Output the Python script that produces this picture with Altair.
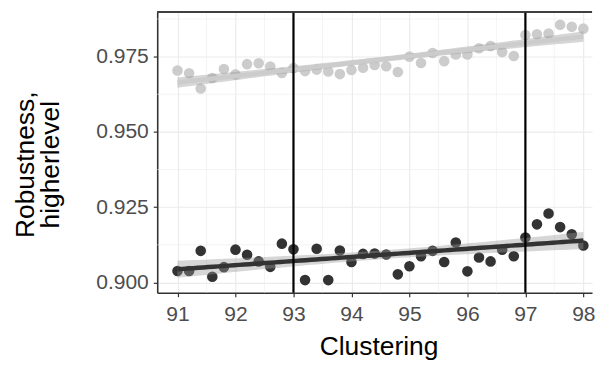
import altair as alt
import numpy as np
import pandas as pd

# ---- data ----
clustering = [91.0, 91.2, 91.4, 91.6, 91.8, 92.0, 92.2, 92.4, 92.6, 92.8,
              93.0, 93.2, 93.4, 93.6, 93.8, 94.0, 94.2, 94.4, 94.6, 94.8,
              95.0, 95.2, 95.4, 95.6, 95.8, 96.0, 96.2, 96.4, 96.6, 96.8,
              97.0, 97.2, 97.4, 97.6, 97.8, 98.0]
light_vals = [0.9704, 0.9695, 0.9644, 0.9679, 0.9709, 0.9691, 0.9725, 0.9728, 0.9717, 0.9696,
              0.9712, 0.9702, 0.9707, 0.9701, 0.9692, 0.9706, 0.9713, 0.9722, 0.9718, 0.9699,
              0.9750, 0.9729, 0.9762, 0.9735, 0.9757, 0.9757, 0.9778, 0.9785, 0.9765, 0.9752,
              0.9822, 0.9824, 0.9827, 0.9856, 0.9849, 0.9843]
dark_vals = [0.9038, 0.9038, 0.9105, 0.9019, 0.9051, 0.9109, 0.9092, 0.9070, 0.9052, 0.9129,
             0.9110, 0.9008, 0.9112, 0.9008, 0.9106, 0.9068, 0.9095, 0.9096, 0.9093, 0.9027,
             0.9054, 0.9087, 0.9105, 0.9068, 0.9133, 0.9037, 0.9083, 0.9070, 0.9109, 0.9087,
             0.9149, 0.9193, 0.9229, 0.9184, 0.9160, 0.9123]
series_names = ["light", "dark"]
series_colors = ["#cccccc", "#333333"]
x_ticks = [91, 92, 93, 94, 95, 96, 97, 98]
y_ticks = [0.900, 0.925, 0.950, 0.975]
vlines = [93, 97]

X_DOMAIN = [90.65, 98.15]
Y_DOMAIN = [0.8966, 0.9898]
W, H = 440, 284
FONT = "Liberation Sans"

# ---- tables ----
pts = pd.DataFrame({
    "x": clustering * 2,
    "y": light_vals + dark_vals,
    "series": ["light"] * len(clustering) + ["dark"] * len(clustering),
})

# linear fit with 95% confidence band (like geom_smooth(method="lm"))
fits = []
for name, vals in zip(series_names, [light_vals, dark_vals]):
    xa = np.array(clustering)
    ya = np.array(vals)
    n = len(xa)
    b1, b0 = np.polyfit(xa, ya, 1)
    res = ya - (b0 + b1 * xa)
    s = np.sqrt(np.sum(res ** 2) / (n - 2))
    sxx = np.sum((xa - xa.mean()) ** 2)
    g = np.linspace(xa.min(), xa.max(), 80)
    fit = b0 + b1 * g
    se = s * np.sqrt(1.0 / n + (g - xa.mean()) ** 2 / sxx)
    t = 2.032
    fits.append(pd.DataFrame({"x": g, "fit": fit, "lo": fit - t * se,
                              "hi": fit + t * se, "series": name}))
fitdf = pd.concat(fits, ignore_index=True)

minor_x = pd.DataFrame({"x": [(a + b) / 2 for a, b in zip(x_ticks[:-1], x_ticks[1:])]})
ys = [y_ticks[0] - 0.025] + y_ticks + [y_ticks[-1] + 0.025]
minor_y = pd.DataFrame({"y": [(a + b) / 2 for a, b in zip(ys[:-1], ys[1:])
                              if Y_DOMAIN[0] < (a + b) / 2 < Y_DOMAIN[1]]})
vdf = pd.DataFrame({"x": vlines})

xscale = alt.Scale(domain=X_DOMAIN, nice=False, zero=False)
yscale = alt.Scale(domain=Y_DOMAIN, nice=False, zero=False)
cscale = alt.Scale(domain=series_names, range=series_colors)

xaxis = alt.Axis(values=x_ticks, format="d", title="Clustering", labelPadding=7,
                 titleX=224, titleY=63, titleBaseline="alphabetic",
                 titleAlign="center")
yaxis = alt.Axis(values=y_ticks, format=".3f", title=["Robustness,", "higherlevel"],
                 labelPadding=5,
                 titleAngle=-90, titleX=-146, titleY=154, titleBaseline="top",
                 titleAlign="center", titleLineHeight=25)

minor_x_layer = alt.Chart(minor_x).mark_rule(color="#ebebeb", strokeWidth=0.6).encode(
    x=alt.X("x:Q", scale=xscale, axis=xaxis))
minor_y_layer = alt.Chart(minor_y).mark_rule(color="#ebebeb", strokeWidth=0.6).encode(
    y=alt.Y("y:Q", scale=yscale, axis=yaxis))

points = alt.Chart(pts).mark_circle(size=115, opacity=1).encode(
    x=alt.X("x:Q", scale=xscale, axis=xaxis),
    y=alt.Y("y:Q", scale=yscale, axis=yaxis),
    color=alt.Color("series:N", scale=cscale, legend=None),
)

band = alt.Chart(fitdf).mark_area(color="#999999", opacity=0.4).encode(
    x=alt.X("x:Q", scale=xscale),
    y=alt.Y("lo:Q", scale=yscale),
    y2="hi:Q",
    detail="series:N",
)

line = alt.Chart(fitdf).mark_line(strokeWidth=4.5).encode(
    x=alt.X("x:Q", scale=xscale),
    y=alt.Y("fit:Q", scale=yscale),
    color=alt.Color("series:N", scale=cscale, legend=None),
)

vrule = alt.Chart(vdf).mark_rule(color="black", strokeWidth=2.2).encode(
    x=alt.X("x:Q", scale=xscale))

top_border = alt.Chart(vdf).mark_rule(color="#333333", strokeWidth=1.6).encode(
    x=alt.value(0), x2=alt.value(W), y=alt.value(0))

chart = alt.layer(minor_x_layer, minor_y_layer, points, band, line, vrule, top_border).properties(
    width=W, height=H,
    autosize=alt.AutoSizeParams(type="none"),
    padding={"left": 151, "top": 2, "right": 4, "bottom": 69},
).configure_view(stroke=None).configure_axis(
    grid=True, gridColor="#ebebeb", gridWidth=1.2,
    domain=True, domainColor="#333333", domainWidth=1.6,
    ticks=True, tickColor="#333333", tickSize=4, tickWidth=1.2,
    labelFont=FONT, labelFontSize=21.3, labelColor="#4d4d4d",
    titleFont=FONT, titleFontSize=26.7, titleFontWeight="normal", titleColor="black",
)

chart.save("out.html", embed_options={"renderer": "svg", "actions": False})
